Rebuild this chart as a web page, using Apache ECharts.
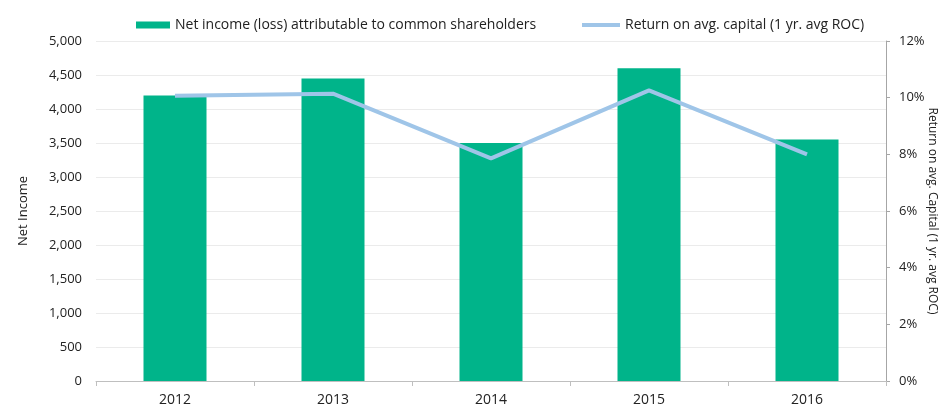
<!DOCTYPE html>
<html>
<head>
<meta charset="utf-8">
<script src="https://cdn.jsdelivr.net/npm/echarts@6/dist/echarts.min.js"></script>
<style>
  html, body { margin: 0; padding: 0; background: #fff; }
  #chart { width: 944px; height: 410px; }
</style>
</head>
<body>
<div id="chart"></div>
<script>
// data
var years = ['2012', '2013', '2014', '2015', '2016'];
var netIncome = [4200, 4450, 3500, 4600, 3550];
var roc = [10.07, 10.14, 7.86, 10.26, 8.0];

var barName = 'Net income (loss) attributable to common shareholders';
var lineName = 'Return on avg. capital (1 yr. avg ROC)';

var font = 'Open Sans';
var lineColor = '#9fc5e8';
var chart = echarts.init(document.getElementById('chart'));

var legendText = { fontFamily: font, fontSize: 14, color: '#222' };

var option = {
    animation: false,
    textStyle: { fontFamily: font, color: '#222' },
    // two legends so each icon can have its own size
    legend: [
        {
            left: 131,
            top: 13,
            itemGap: 0,
            itemWidth: 34,
            itemHeight: 7,
            icon: 'rect',
            textStyle: legendText,
            data: [barName]
        },
        {
            left: 577,
            top: 13,
            itemGap: 0,
            itemWidth: 38,
            itemHeight: 4,
            icon: 'rect',
            textStyle: legendText,
            data: [lineName]
        }
    ],
    grid: { left: 96, right: 58, top: 41, bottom: 29, outerBoundsMode: 'none' },
    xAxis: {
        type: 'category',
        data: years,
        axisLine: { lineStyle: { color: '#bfbfbf' } },
        axisTick: { show: true, length: 5, lineStyle: { color: '#bfbfbf' } },
        axisLabel: { fontSize: 14, color: '#222', margin: 12 }
    },
    yAxis: [
        {
            type: 'value',
            min: 0,
            max: 5000,
            interval: 500,
            name: 'Net Income',
            nameLocation: 'middle',
            nameGap: 66,
            nameMoveOverlap: false,
            nameTextStyle: { fontSize: 13, color: '#222' },
            axisLine: { show: false },
            axisTick: { show: false },
            axisLabel: { fontSize: 13, color: '#222', margin: 14 },
            splitLine: { lineStyle: { color: '#ebebeb' } }
        },
        {
            type: 'value',
            min: 0,
            max: 12,
            interval: 2,
            position: 'right',
            name: 'Return on avg. Capital (1 yr. avg ROC)',
            nameLocation: 'middle',
            nameRotate: -90,
            nameGap: 40,
            nameMoveOverlap: false,
            nameTextStyle: { fontSize: 12, color: '#222' },
            axisLine: { show: true, lineStyle: { color: '#a6a6a6' } },
            axisTick: { show: true, length: 4, lineStyle: { color: '#a6a6a6' } },
            axisLabel: { fontSize: 13, color: '#222', margin: 13, formatter: '{value}%' },
            splitLine: { show: false }
        }
    ],
    series: [
        {
            name: barName,
            type: 'bar',
            data: netIncome,
            barWidth: 63,
            itemStyle: { color: '#00b48a' }
        },
        {
            name: lineName,
            type: 'line',
            yAxisIndex: 1,
            data: roc,
            symbol: 'none',
            lineStyle: { color: lineColor, width: 4 },
            itemStyle: { color: lineColor }
        }
    ]
};

chart.setOption(option);
</script>
</body>
</html>
